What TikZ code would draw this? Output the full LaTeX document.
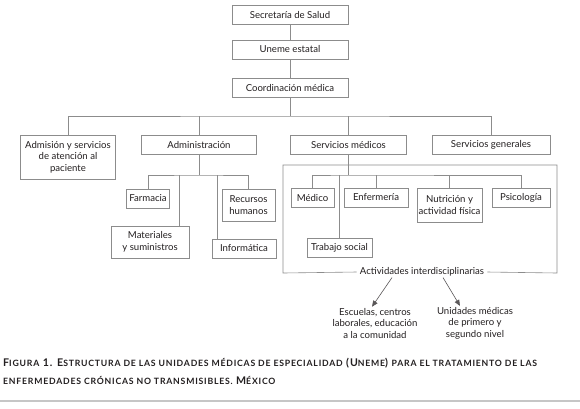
\documentclass[tikz,border=0pt]{standalone}
\usepackage{fontspec}
\setmainfont{Lato}
\usepackage{xcolor}
\usepackage{tikz}
\usetikzlibrary{arrows.meta,positioning}

\definecolor{ink}{HTML}{231F20}
\definecolor{linegray}{gray}{0.55}
\newcommand\diagfont{\fontsize{9.6}{11.5}\selectfont}
\newcommand\fsc[1]{{\fontsize{8.7}{9}\selectfont\MakeUppercase{#1}}}

\begin{document}
\begin{tikzpicture}[x=1pt, y=-1pt,
  box/.style={draw=linegray, line width=0.6pt, inner sep=1pt, align=center, font=\diagfont, text=ink},
  ln/.style={draw=linegray, line width=0.6pt},
  lbl/.style={align=center, font=\diagfont, text=ink, inner sep=1pt},
  arr/.style={-{Triangle[length=6pt, width=5pt]}, draw=ink!75, line width=0.6pt}
]
\fill[white] (0,0) rectangle (580,408);
\useasboundingbox (0,0) rectangle (580,408);
% top levels
\node[box, minimum width=116, minimum height=19] (sec) at (290,14.5) {Secretaría de Salud};
\node[box, minimum width=116, minimum height=19] (une) at (290,49.5) {Uneme estatal};
\node[box, minimum width=116, minimum height=19] (coord) at (290,87.5) {Coordinación médica};
\draw[ln] (sec) -- (une);
\draw[ln] (une) -- (coord);
% second level
\node[box, minimum width=95, minimum height=44] (adm) at (68,157) {Admisión y servicios\\de atención al\\paciente};
\node[box, minimum width=115, minimum height=19] (admin) at (199,144.5) {Administración};
\node[box, minimum width=116, minimum height=19] (sm) at (348.5,144.5) {Servicios médicos};
\node[box, minimum width=118, minimum height=19] (sg) at (491,144.5) {Servicios generales};
\coordinate (b1) at (290,116);
\draw[ln] (coord) -- (b1);
\draw[ln] (adm.north) |- (b1) -| (sg.north);
\draw[ln] (admin.north) -- (admin.north |- b1);
\draw[ln] (sm.north) -- (sm.north |- b1);
% administracion
\node[box, minimum width=43, minimum height=19] (farm) at (148,198.5) {Farmacia};
\node[box, minimum width=53, minimum height=32] (rh) at (248.5,205) {Recursos\\humanos};
\node[box, minimum width=78, minimum height=32] (mat) at (150,242) {Materiales\\y suministros};
\node[box, minimum width=64, minimum height=19] (inf) at (244,248.5) {Informática};
\coordinate (b2) at (199,175);
\draw[ln] (admin) -- (admin.south |- b2);
\draw[ln] (farm.north) |- (b2) -| (rh.north);
\draw[ln] ([xshift=29pt]mat.north) -- ([xshift=29pt]mat.north |- b2);
\draw[ln] ([xshift=-27pt]inf.north) -- ([xshift=-27pt]inf.north |- b2);
% servicios medicos
\node[box, minimum width=43, minimum height=19] (med) at (312.5,197.5) {Médico};
\node[box, minimum width=64, minimum height=19] (enf) at (376,197.5) {Enfermería};
\node[box, minimum width=65, minimum height=34] (nut) at (449.5,205) {Nutrición y\\actividad física};
\node[box, minimum width=58, minimum height=19] (psi) at (521,197.5) {Psicología};
\node[box, minimum width=65, minimum height=19] (ts) at (339.5,247.5) {Trabajo social};
\coordinate (b3) at (348.5,175);
\draw[ln] (sm) -- (sm.south |- b3);
\draw[ln] (med.north) |- (b3) -| (psi.north);
\draw[ln] (enf.north) -- (enf.north |- b3);
\draw[ln] (nut.north) -- (nut.north |- b3);
\draw[ln] (ts.north) -- (ts.north |- b3);
% frame
\node[lbl, inner xsep=3pt] (act) at (422,272) {Actividades interdisciplinarias};
\draw[ln] (act.west) -- (283,273) -- (283,165) -- (557,165) -- (557,273) -- (act.east);
\node[lbl] (esc) at (375,323) {Escuelas, centros\\laborales, educación\\a la comunidad};
\node[lbl] (uni) at (475,323) {Unidades médicas\\de primero y\\segundo nivel};
\draw[arr] ([xshift=-30pt]act.south) -- ([xshift=-3pt]esc.north);
\draw[arr] ([xshift=21pt]act.south) -- ([xshift=-15pt]uni.north);
% caption
\node[anchor=north west, align=left, inner sep=0, text=ink,
  font=\bfseries\addfontfeatures{LetterSpace=9}\fontsize{10.6}{18}\selectfont] (cap) at (3,357.5)
  {F\fsc{igura} 1. E\fsc{structura de las unidades médicas de especialidad} (U\fsc{neme}) \fsc{para el tratamiento de las}\\
   \fsc{enfermedades crónicas no transmisibles.} M\fsc{éxico}};
\draw[line width=1.2pt, gray!45] (0,401) -- (580,401);
\end{tikzpicture}
\end{document}
